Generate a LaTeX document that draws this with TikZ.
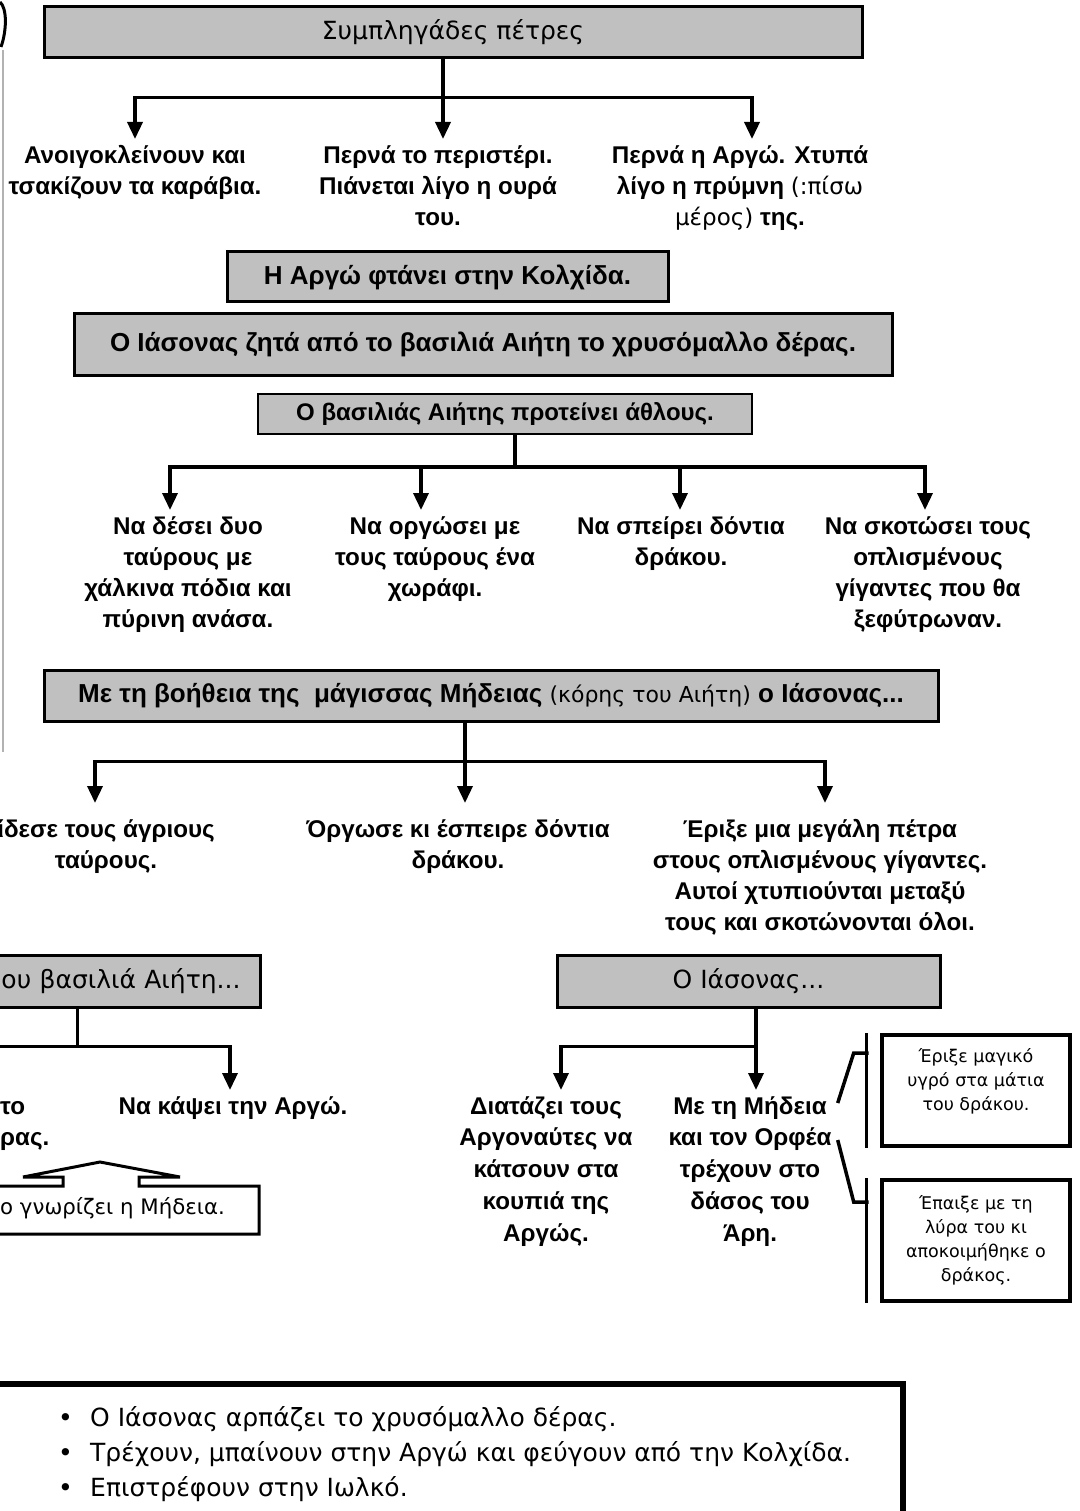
\documentclass[tikz,border=0pt]{standalone}
\usepackage{fontspec}
\setmainfont{DejaVu Sans}
\newfontfamily\heavy{Liberation Sans}
\usetikzlibrary{arrows.meta, positioning}
\definecolor{boxgray}{RGB}{192,192,192}
\newcommand{\firstline}{\rule{0pt}{24pt}}

\begin{document}
\begin{tikzpicture}[x=1pt, y=-1pt,
  every node/.style={inner sep=0pt},
  graybox/.style={draw, line width=3pt, fill=boxgray, font=\heavy\bfseries\fontsize{26}{30}\selectfont},
  plainbox/.style={graybox, font=\fontsize{25}{30}\selectfont},
  leaf/.style={anchor=north, align=center, font=\heavy\bfseries\fontsize{24.2}{31}\selectfont},
  tallleaf/.style={leaf, font=\heavy\bfseries\fontsize{24.2}{31.7}\selectfont},
  note/.style={draw, line width=3.5pt, align=center, font=\fontsize{17.5}{24}\selectfont},
  link/.style={line width=3.5pt},
  arr/.style={link, -{Triangle[length=17pt, width=15pt]}}]
  \fill[white] (0,0) rectangle (1079,1511);
  \useasboundingbox (0,0) rectangle (1079,1511);
  % Nodes
  \node[plainbox, minimum width=818, minimum height=51] (rocks) at (453,32.5) {Συμπληγάδες πέτρες};
  \node[leaf] (clash) at (135,139) {\firstline Ανοιγοκλείνουν και\\τσακίζουν τα καράβια.};
  \node[leaf] (dove) at (438,139) {\firstline Περνά το περιστέρι.\\Πιάνεται λίγο η ουρά\\του.};
  \node[leaf] (argopass) at (740,139) {\firstline Περνά η Αργώ. Χτυπά\\λίγο η πρύμνη {\normalfont\fontsize{23}{31}\selectfont (:πίσω}\\{\normalfont\fontsize{23}{31}\selectfont μέρος)} της.};
  \node[graybox, minimum width=441, minimum height=50] (colchis) at (447.5,277) {Η Αργώ φτάνει στην Κολχίδα.};
  \node[graybox, minimum width=818, minimum height=62] (fleece) at (483,344) {Ο Ιάσονας ζητά από το βασιλιά Αιήτη το χρυσόμαλλο δέρας.};
  \node[graybox, line width=2pt, font=\heavy\bfseries\fontsize{24}{28}\selectfont, minimum width=494, minimum height=40] (labours) at (505,414) {Ο βασιλιάς Αιήτης προτείνει άθλους.};
  \node[leaf] (yoke) at (188,510) {\firstline Να δέσει δυο\\ταύρους με\\χάλκινα πόδια και\\πύρινη ανάσα.};
  \node[leaf] (plough) at (435,510) {\firstline Να οργώσει με\\τους ταύρους ένα\\χωράφι.};
  \node[leaf] (sow) at (681,510) {\firstline Να σπείρει δόντια\\δράκου.};
  \node[leaf] (giants) at (928,510) {\firstline Να σκοτώσει τους\\οπλισμένους\\γίγαντες που θα\\ξεφύτρωναν.};
  \node[graybox, minimum width=894, minimum height=51] (medea) at (491,695.5) {Με τη βοήθεια της\ \ μάγισσας Μήδειας {\normalfont\fontsize{22}{30}\selectfont (κόρης του Αιήτη)} ο Ιάσονας...};
  \node[leaf] (bound) at (106,813) {\firstline ίδεσε τους άγριους\\ταύρους.};
  \node[leaf] (sowed) at (458,813) {\firstline Όργωσε κι έσπειρε δόντια\\δράκου.};
  \node[leaf] (stone) at (820,813) {\firstline Έριξε μια μεγάλη πέτρα\\στους οπλισμένους γίγαντες.\\Αυτοί χτυπιούνται μεταξύ\\τους και σκοτώνονται όλοι.};
  \node[plainbox, anchor=west, text width=249pt, inner xsep=10pt, align=left, minimum height=52] (plot) at (-10,981) {ου βασιλιά Αιήτη...};
  \node[leaf, anchor=north west, align=left] (retake) at (0,1090) {\firstline το\\ρας.};
  \node[leaf] (burn) at (233,1090) {\firstline Να κάψει την Αργώ.};
  \node[anchor=west, font=\fontsize{21.3}{28}\selectfont] (knows) at (0,1208) {ο γνωρίζει η Μήδεια.};
  \node[plainbox, minimum width=383, minimum height=52] (jason) at (748.5,981) {Ο Ιάσονας...};
  \node[tallleaf] (oars) at (546,1090) {\firstline Διατάζει τους\\Αργοναύτες να\\κάτσουν στα\\κουπιά της\\Αργώς.};
  \node[tallleaf] (forest) at (750,1090) {\firstline Με τη Μήδεια\\και τον Ορφέα\\τρέχουν στο\\δάσος του\\Άρη.};
  \node[note, minimum width=188, minimum height=111, text depth=23pt] (potion) at (976,1090.5) {Έριξε μαγικό\\υγρό στα μάτια\\του δράκου.};
  \node[note, minimum width=188, minimum height=121] (lyre) at (976,1240.5) {Έπαιξε με τη\\λύρα του κι\\αποκοιμήθηκε ο\\δράκος.};
  \node[anchor=north west, align=left, font=\fontsize{25}{35}\selectfont] (escape) at (58,1402)
    {\strut\makebox[32pt][l]{\textbullet}Ο Ιάσονας αρπάζει το χρυσόμαλλο δέρας.\\
     \makebox[32pt][l]{\textbullet}Τρέχουν, μπαίνουν στην Αργώ και φεύγουν από την Κολχίδα.\\
     \makebox[32pt][l]{\textbullet}Επιστρέφουν στην Ιωλκό.};
  % Frames
  \draw[line width=3pt] (-10,1186) -- (63,1186) -- (63,1177) -- (23,1177) -- (100,1162) -- (180,1177)
    -- (139,1177) -- (139,1186) -- (259,1186) -- (259,1234) -- (-10,1234);
  \draw[line width=6pt] (-10,1384) rectangle (903,1540);
  \draw[black!30, line width=1.5pt] (3,50) -- (3,752);
  \draw[line width=3pt] (0,2) .. controls (7,8) and (7,30) .. (1,47);
  % Edges
  \draw[arr] ([xshift=-10pt]rocks.south) -- ++(0,38) -| (clash.north);
  \draw[arr] ([xshift=-10pt]rocks.south) -- ([xshift=5pt]dove.north);
  \draw[arr] ([xshift=-10pt]rocks.south) -- ++(0,38) -| ([xshift=12pt]argopass.north);
  \draw[arr] ([xshift=10pt]labours.south) -- ++(0,32) -| ([xshift=-18pt]yoke.north);
  \draw[arr] ([xshift=10pt]labours.south) -- ++(0,32) -| ([xshift=-14pt]plough.north);
  \draw[arr] ([xshift=10pt]labours.south) -- ++(0,32) -| ([xshift=-1pt]sow.north);
  \draw[arr] ([xshift=10pt]labours.south) -- ++(0,32) -| ([xshift=-3pt]giants.north);
  \draw[arr, shorten >=10pt] ([xshift=-26pt]medea.south) -- ++(0,39) -| ([xshift=-11pt]bound.north);
  \draw[arr, shorten >=10pt] ([xshift=-26pt]medea.south) -- ([xshift=7pt]sowed.north);
  \draw[arr, shorten >=10pt] ([xshift=-26pt]medea.south) -- ++(0,39) -| ([xshift=5pt]stone.north);
  \draw[link] ([xshift=-48.5pt]plot.south) -- ++(0,38) -- ++(-90,0);
  \draw[arr] ([xshift=-48.5pt]plot.south) -- ++(0,38) -| ([xshift=-3pt]burn.north);
  \draw[arr] ([xshift=7.5pt]jason.south) -- ++(0,38) -| ([xshift=15pt]oars.north);
  \draw[arr] ([xshift=7.5pt]jason.south) -- ([xshift=6pt]forest.north);
  \draw[link] ([xshift=-14pt]potion.north west) -- ([xshift=-14pt]potion.south west);
  \draw[link] ([xshift=-14pt]lyre.north west) -- ([xshift=-14pt]lyre.south west);
  \draw[link] ([shift={(6,13)}]forest.north east) -- ++(16,-50) -- ++(15,0);
  \draw[link] ([shift={(6,50)}]forest.north east) -- ++(16,62) -- ++(15,0);
\end{tikzpicture}
\end{document}
